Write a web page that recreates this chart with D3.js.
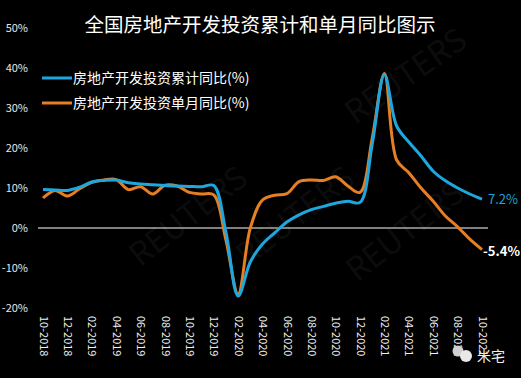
<!DOCTYPE html>
<html>
<head>
<meta charset="utf-8">
<script src="https://cdn.jsdelivr.net/npm/d3@7"></script>
<style>
  body { margin: 0; background: #000; }
  svg { display: block; }
</style>
</head>
<body>
<div id="chart"></div>
<script>
// months shown on the x axis (every month, labels on every other one)
var months = ["10-2018","11-2018","12-2018","01-2019","02-2019","03-2019","04-2019","05-2019",
  "06-2019","07-2019","08-2019","09-2019","10-2019","11-2019","12-2019","01-2020","02-2020",
  "03-2020","04-2020","05-2020","06-2020","07-2020","08-2020","09-2020","10-2020","11-2020",
  "12-2020","01-2021","02-2021","03-2021","04-2021","05-2021","06-2021","07-2021","08-2021",
  "09-2021","10-2021"];

// 房地产开发投资累计同比(%)
var cumulative = [9.6, 9.5, 9.4, 10.2, 11.5, 11.9, 12.0, 11.3, 11.0, 10.8, 10.6, 10.5, 10.4,
  10.3, 10.6, -1.0, -17.0, -8.5, -4.0, -1.2, 1.5, 3.3, 4.6, 5.4, 6.2, 6.7, 6.4, 21.0, 38.3,
  25.5, 21.5, 18.0, 14.2, 11.8, 10.0, 8.5, 7.2];

// 房地产开发投资单月同比(%)
var monthly = [7.5, 9.4, 8.0, 9.8, 11.4, 12.0, 12.1, 9.6, 10.3, 8.5, 10.7, 10.5, 8.9, 8.5,
  8.3, -3.0, -16.5, 0.0, 7.0, 8.2, 8.6, 11.6, 12.0, 11.9, 12.8, 10.5, 8.9, 22.5, 38.6, 17.0,
  13.8, 10.0, 6.7, 3.0, 0.3, -2.8, -5.4];

var yTicks = [-20, -10, 0, 10, 20, 30, 40, 50];
var xTicks = months.filter(function(d, i) { return i % 2 == 0; });

var width = 521, height = 378;
var font = "'Noto Sans CJK SC', 'Noto Sans', sans-serif";
var blue = "#1ea6df", orange = "#e67e22";

var svg = d3.select("#chart")
  .append("svg")
    .attr("width", width)
    .attr("height", height)
    .style("background", "#000");

// faint watermarks
[[412, 85, -35], [302, 225, -38], [412, 240, -38], [195, 225, -38]].forEach(function(w) {
  svg.append("text")
    .attr("transform", "translate(" + w[0] + "," + w[1] + ") rotate(" + w[2] + ")")
    .attr("text-anchor", "middle")
    .style("font-family", font)
    .style("font-size", "32px")
    .style("fill", "#0c0c0c")
    .text("REUTERS");
});

var x = d3.scalePoint()
  .domain(months)
  .range([43, 482]);

var y = d3.scaleLinear()
  .domain([-20, 50])
  .range([308, 28]);

// Y axis labels
var yAxis = svg.append("g")
  .attr("transform", "translate(28,0)")
  .call(d3.axisLeft(y).tickValues(yTicks).tickSize(0).tickPadding(0)
    .tickFormat(function(d) { return d + "%"; }));
yAxis.select(".domain").remove();
yAxis.selectAll("text")
  .style("font-family", font)
  .style("font-size", "11px")
  .style("fill", "#e6e6e6");

// X axis labels, rotated
var xAxis = svg.append("g")
  .attr("transform", "translate(0,316)")
  .call(d3.axisBottom(x).tickValues(xTicks).tickSize(0).tickPadding(0));
xAxis.select(".domain").remove();
xAxis.selectAll("text")
  .attr("transform", "rotate(90)")
  .attr("text-anchor", "start")
  .attr("x", 0)
  .attr("y", 0)
  .attr("dy", "0.35em")
  .style("font-family", font)
  .style("font-size", "11px")
  .style("fill", "#f0f0f0");

// zero line
svg.append("line")
  .attr("x1", 38).attr("x2", 488)
  .attr("y1", y(0)).attr("y2", y(0))
  .attr("stroke", "#fff")
  .attr("stroke-width", 1);

var line = d3.line()
  .x(function(d, i) { return x(months[i]); })
  .y(function(d) { return y(d); })
  .curve(d3.curveCatmullRom.alpha(0.5));

svg.append("path")
  .datum(monthly)
  .attr("d", line)
  .attr("fill", "none")
  .attr("stroke", orange)
  .attr("stroke-width", 3);

svg.append("path")
  .datum(cumulative)
  .attr("d", line)
  .attr("fill", "none")
  .attr("stroke", blue)
  .attr("stroke-width", 3);

// end labels
svg.append("text")
  .attr("x", x(months[months.length - 1]) + 6)
  .attr("y", y(cumulative[cumulative.length - 1]) + 5)
  .style("font-family", font)
  .style("font-size", "13px")
  .style("fill", blue)
  .text(cumulative[cumulative.length - 1].toFixed(1) + "%");

svg.append("text")
  .attr("x", x(months[months.length - 1]) + 1)
  .attr("y", y(monthly[monthly.length - 1]) + 6)
  .style("font-family", font)
  .style("font-size", "13px")
  .style("font-weight", "bold")
  .style("fill", "#fff")
  .text(monthly[monthly.length - 1].toFixed(1) + "%");

// title
svg.append("text")
  .attr("x", 260)
  .attr("y", 32)
  .attr("text-anchor", "middle")
  .style("font-family", font)
  .style("font-size", "19.5px")
  .style("fill", "#fff")
  .text("全国房地产开发投资累计和单月同比图示");

// legend
var legend = [["房地产开发投资累计同比(%)", blue], ["房地产开发投资单月同比(%)", orange]];
legend.forEach(function(l, i) {
  var ly = 78 + i * 25;
  svg.append("line")
    .attr("x1", 42).attr("x2", 72)
    .attr("y1", ly).attr("y2", ly)
    .attr("stroke", l[1])
    .attr("stroke-width", 3);
  svg.append("text")
    .attr("x", 73)
    .attr("y", ly + 5)
    .style("font-family", font)
    .style("font-size", "14px")
    .style("fill", "#fff")
    .text(l[0]);
});

// source mark bottom right
svg.append("circle").attr("cx", 458).attr("cy", 351).attr("r", 5.5).attr("fill", "#d0d0d0");
svg.append("circle").attr("cx", 466).attr("cy", 356).attr("r", 6).attr("fill", "#e8e8e8");
svg.append("text")
  .attr("x", 477)
  .attr("y", 361)
  .style("font-family", font)
  .style("font-size", "14px")
  .style("fill", "#f0f0f0")
  .text("米宅");
</script>
</body>
</html>
